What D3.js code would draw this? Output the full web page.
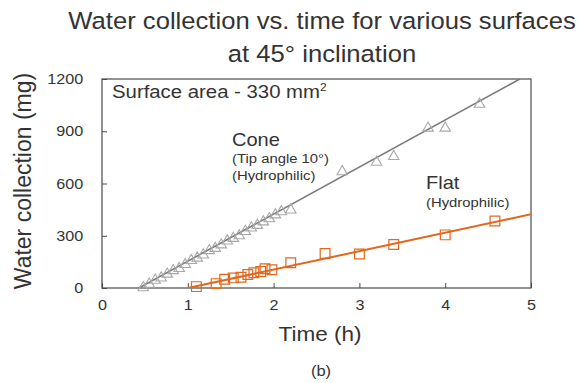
<!DOCTYPE html>
<html>
<head>
<meta charset="utf-8">
<script src="https://cdn.jsdelivr.net/npm/d3@7"></script>
<style>
  html, body { margin: 0; padding: 0; background: #fff; }
  svg { display: block; font-family: "Liberation Sans", Arial, sans-serif; }
</style>
</head>
<body>
<svg id="chart" width="585" height="383"></svg>
<script>
// Cone surface (tip angle 10°, hydrophilic): time (h) and collected water (mg)
const coneTime = [0.48, 0.55, 0.62, 0.69, 0.76, 0.83, 0.90, 0.97, 1.04, 1.11, 1.18, 1.25, 1.32,
                  1.39, 1.46, 1.53, 1.60, 1.67, 1.74, 1.81, 1.88, 1.95, 2.02, 2.09, 2.20,
                  2.80, 3.20, 3.40, 3.80, 4.00, 4.40];
const coneWater = [2, 22, 45, 58, 80, 100, 112, 135, 158, 172, 190, 215, 228,
                   248, 270, 285, 300, 325, 345, 360, 380, 398, 420, 438, 448,
                   668, 722, 755, 918, 918, 1055];

// Flat surface (hydrophilic)
const flatTime = [1.10, 1.33, 1.43, 1.53, 1.62, 1.70, 1.77, 1.85, 1.90, 1.98, 2.20, 2.60, 3.00, 3.40, 4.00, 4.58];
const flatWater = [8, 25, 50, 58, 62, 78, 88, 95, 110, 105, 145, 198, 195, 250, 305, 385];

// Linear trend lines: [time, water] end points
const coneFit = [[0.43, 0], [4.87, 1200]];
const flatFit = [[1.0, 0], [5.0, 423]];

const xTicks = [0, 1, 2, 3, 4, 5];
const yTicks = [0, 300, 600, 900, 1200];

const titleLines = ["Water collection vs. time for various surfaces", "at 45\u00B0 inclination"];

const svg = d3.select("#chart");
const margin = { left: 102, right: 54, top: 79, bottom: 95 };
const W = 585, H = 383;
const x = d3.scaleLinear().domain([0, 5]).range([margin.left, W - margin.right]);
const y = d3.scaleLinear().domain([0, 1200]).range([H - margin.bottom, margin.top]);

const axisColor = "#4a4a4a";
const textColor = "#333";
const coneColor = "#7a7a7a";
const coneMarker = "#a8a8a8";
const flatColor = "#e2661c";
const WIDEN = 1.1; // horizontal text widening

// Horizontal text placed at (px, py), slightly widened
function label(px, py, str, size, anchor) {
  return svg.append("text")
    .attr("transform", `translate(${px},${py}) scale(${WIDEN},1)`)
    .attr("text-anchor", anchor || "start")
    .attr("font-size", size).attr("fill", textColor)
    .text(str);
}

// Title
titleLines.forEach((t, i) => label(322, 29 + i * 33, t, 23.3, "middle"));

// Frame
svg.append("rect")
  .attr("x", x(0)).attr("y", y(1200))
  .attr("width", x(5) - x(0)).attr("height", y(0) - y(1200))
  .attr("fill", "none").attr("stroke", axisColor).attr("stroke-width", 1.2);

// Axes with inward ticks
const xAxis = svg.append("g").attr("transform", `translate(0,${y(0)})`)
  .call(d3.axisBottom(x).tickValues(xTicks).tickSizeInner(-5).tickSizeOuter(0).tickPadding(12).tickFormat(d3.format("d")));
const yAxis = svg.append("g").attr("transform", `translate(${x(0)},0)`)
  .call(d3.axisLeft(y).tickValues(yTicks).tickSizeInner(-5).tickSizeOuter(0).tickPadding(17).tickFormat(d3.format("d")));
[xAxis, yAxis].forEach(g => {
  g.select(".domain").remove();
  g.selectAll(".tick line").attr("stroke", axisColor);
  g.selectAll(".tick text").attr("font-size", 14.7).attr("fill", textColor)
    .attr("font-family", "Liberation Sans, Arial, sans-serif")
    .attr("transform", `scale(${WIDEN},1)`);
});

// Axis titles
label(320, 341, "Time (h)", 20.5, "middle");
svg.append("text").attr("transform", "translate(31,181) rotate(-90)").attr("text-anchor", "middle")
  .attr("font-size", 23).attr("fill", textColor).text("Water collection (mg)");
label(321, 376, "(b)", 15, "middle");

// Plot clip so fit lines stop at the frame
svg.append("clipPath").attr("id", "plotClip").append("rect")
  .attr("x", x(0)).attr("y", y(1200)).attr("width", x(5) - x(0)).attr("height", y(0) - y(1200));
const plot = svg.append("g").attr("clip-path", "url(#plotClip)");
const plotMarks = svg.append("g");

const line = d3.line().x(d => x(d[0])).y(d => y(d[1]));

// Cone markers and fit
const triangle = d3.symbol().type(d3.symbolTriangle).size(48);
plotMarks.selectAll("path.cone").data(coneTime.map((t, i) => [t, coneWater[i]])).join("path")
  .attr("class", "cone")
  .attr("transform", d => `translate(${x(d[0])},${y(d[1])})`)
  .attr("d", triangle).attr("fill", "none").attr("stroke", coneMarker).attr("stroke-width", 1.1);
plot.append("path").datum(coneFit).attr("d", line)
  .attr("fill", "none").attr("stroke", coneColor).attr("stroke-width", 1.6);

// Flat markers and fit
const square = d3.symbol().type(d3.symbolSquare).size(95);
plotMarks.selectAll("path.flat").data(flatTime.map((t, i) => [t, flatWater[i]])).join("path")
  .attr("class", "flat")
  .attr("transform", d => `translate(${x(d[0])},${y(d[1])})`)
  .attr("d", square).attr("fill", "none").attr("stroke", flatColor).attr("stroke-width", 1.2);
plot.append("path").datum(flatFit).attr("d", line)
  .attr("fill", "none").attr("stroke", flatColor).attr("stroke-width", 2);

// Annotations
const sa = label(112, 98, "", 18.5);
sa.append("tspan").text("Surface area - 330 mm");
sa.append("tspan").attr("dy", -7).attr("font-size", 11).text("2");

label(232, 146, "Cone", 18.2);
label(232, 163, "(Tip angle 10\u00B0)", 13.5);
label(232, 180, "(Hydrophilic)", 13.5);

label(426, 189, "Flat", 18.2);
label(426, 207, "(Hydrophilic)", 13.5);
</script>
</body>
</html>
